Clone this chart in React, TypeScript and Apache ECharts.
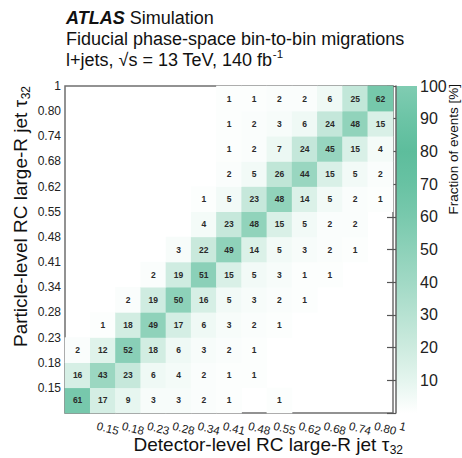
import React, { useEffect, useRef } from "react";
import * as echarts from "echarts";

const FONT = "'Liberation Sans', Arial, Helvetica, sans-serif";

// Bin edge labels (13 bins, edges 0 ... 1)
const xEdgeLabels = ["", "0.15", "0.18", "0.23", "0.28", "0.34", "0.41", "0.48", "0.55", "0.62", "0.68", "0.74", "0.80", "1"];
const yEdgeLabels = ["", "0.15", "0.18", "0.23", "0.28", "0.34", "0.41", "0.48", "0.55", "0.62", "0.68", "0.74", "0.80", "1"];
const binCategories = ["b0", "b1", "b2", "b3", "b4", "b5", "b6", "b7", "b8", "b9", "b10", "b11", "b12"];

// Migration fractions [%]: rows = particle-level bins (bottom to top), columns = detector-level bins
const N = null;
const particleBin0 = [61, 17, 9, 3, 3, 2, 1, N, 1, N, N, N, N];
const particleBin1 = [16, 43, 23, 6, 4, 2, 1, 1, N, N, N, N, N];
const particleBin2 = [2, 12, 52, 18, 6, 3, 2, 1, N, N, N, N, N];
const particleBin3 = [N, 1, 18, 49, 17, 6, 3, 2, 1, N, N, N, N];
const particleBin4 = [N, N, 2, 19, 50, 16, 5, 3, 2, 1, N, N, N];
const particleBin5 = [N, N, N, 2, 19, 51, 15, 5, 3, 1, 1, N, N];
const particleBin6 = [N, N, N, N, 3, 22, 49, 14, 5, 3, 2, 1, N];
const particleBin7 = [N, N, N, N, N, 4, 23, 48, 15, 5, 2, 2, N];
const particleBin8 = [N, N, N, N, N, 1, 5, 23, 48, 14, 5, 2, 1];
const particleBin9 = [N, N, N, N, N, N, 2, 5, 26, 44, 15, 5, 2];
const particleBin10 = [N, N, N, N, N, N, 1, 2, 7, 24, 45, 15, 4];
const particleBin11 = [N, N, N, N, N, N, 1, 2, 3, 6, 24, 48, 15];
const particleBin12 = [N, N, N, N, N, N, 1, 1, 2, 2, 6, 25, 62];
const particleRows = [
  particleBin0, particleBin1, particleBin2, particleBin3, particleBin4, particleBin5, particleBin6,
  particleBin7, particleBin8, particleBin9, particleBin10, particleBin11, particleBin12,
];

const colorbarTicks = [10, 20, 30, 40, 50, 60, 70, 80, 90, 100];
const paletteColors = [
  "#ffffff", "#e4f5ee", "#cdebdf", "#b7e2d2", "#a1d9c5", "#8dd1b9",
  "#79c9ad", "#68c2a3", "#5dbd9c", "#6cc4a6", "#80ccb2",
];

function measure(text: string, size: number, weight = "normal", style = "normal") {
  const ctx = document.createElement("canvas").getContext("2d");
  if (!ctx) return text.length * size * 0.5;
  ctx.font = `${style} ${weight} ${size}px ${FONT}`;
  return ctx.measureText(text).width;
}

export default function App() {
  const ref = useRef<HTMLDivElement>(null);

  useEffect(() => {
    if (!ref.current) return;
    const chart = echarts.init(ref.current, undefined, { renderer: "svg" });

    const data: any[] = [];
    particleRows.forEach((row, yi) => {
      row.forEach((v, xi) => {
        if (v !== null) data.push([xi, yi, v]);
      });
    });

    const titleSize = 18;
    const axisTitleSize = 19;
    const line3Main = "l+jets, \u221As = 13 TeV, 140 fb";
    const line3W = measure(line3Main, titleSize);
    const subSize = 12;
    const subW = measure("32", subSize);

    const gridLeft = 65, gridTop = 86, gridW = 328, gridH = 327;
    const xTitleRight = 403;
    const xTitleY = 444;
    const yTitleX = 20;

    const option: any = {
      animation: false,
      backgroundColor: "#ffffff",
      textStyle: { fontFamily: FONT },
      grid: [
        { left: gridLeft, top: gridTop, width: gridW, height: gridH, show: true, borderColor: "#6f6f6f", borderWidth: 1.5, backgroundColor: "transparent", containLabel: false },
        { left: 396, top: gridTop, width: 21, height: gridH, show: false, containLabel: false },
      ],
      xAxis: [
        {
          gridIndex: 0, type: "value", min: 0, max: 13, interval: 1, position: "bottom",
          axisLine: { show: false }, axisTick: { show: false }, splitLine: { show: false },
          axisLabel: {
            showMinLabel: true, showMaxLabel: true,
            formatter: (v: number) => xEdgeLabels[Math.round(v)] ?? "",
            rotate: -14, margin: 11, fontSize: 11.5, color: "#222", fontFamily: FONT,
            padding: [0, 0, 0, 7],
          },
        },
        { gridIndex: 0, type: "category", data: binCategories, position: "top", show: false },
        { gridIndex: 1, type: "value", min: 0, max: 1, show: false },
      ],
      yAxis: [
        {
          gridIndex: 0, type: "value", min: 0, max: 13, interval: 1, position: "left",
          axisLine: { show: false }, axisTick: { show: false }, splitLine: { show: false },
          axisLabel: {
            showMinLabel: true, showMaxLabel: true,
            formatter: (v: number) => yEdgeLabels[Math.round(v)] ?? "",
            margin: 4, fontSize: 12, color: "#222", fontFamily: FONT,
          },
        },
        { gridIndex: 0, type: "category", data: binCategories, position: "right", show: false },
        {
          gridIndex: 1, type: "value", min: 0, max: 100, interval: 10, position: "right",
          axisLine: { show: true, lineStyle: { color: "#666", width: 1.5 } },
          axisTick: { show: true, inside: true, length: 9, lineStyle: { color: "#555", width: 1.2 } },
          splitLine: { show: false },
          axisLabel: {
            showMinLabel: true, showMaxLabel: true,
            formatter: (v: number) => (colorbarTicks.indexOf(Math.round(v)) >= 0 ? String(Math.round(v)) : ""),
            margin: 3, fontSize: 16, color: "#222", fontFamily: FONT,
          },
        },
      ],
      visualMap: {
        type: "continuous", show: false, min: 0, max: 100, seriesIndex: 0,
        inRange: { color: paletteColors },
      },
      series: [
        {
          type: "heatmap", xAxisIndex: 1, yAxisIndex: 1, data,
          label: {
            show: true, fontSize: 8.5, fontWeight: "bold", color: "#2a2a2a", fontFamily: FONT,
            formatter: (p: any) => (Math.round(p.value[2]) >= 1 ? String(Math.round(p.value[2])) : ""),
          },
          itemStyle: { borderWidth: 0 },
          emphasis: { disabled: true },
        },
      ],
      graphic: [
        {
          type: "rect", z: -10, silent: true,
          shape: { x: 396, y: gridTop, width: 21, height: gridH },
          style: {
            fill: new echarts.graphic.LinearGradient(0, 1, 0, 0,
              paletteColors.map((c, i) => ({ offset: i / (paletteColors.length - 1), color: c }))),
          },
        },
        {
          type: "text", x: 66, y: 18,
          style: {
            text: "{b|ATLAS} Simulation", fontSize: titleSize, fontFamily: FONT, fill: "#111",
            verticalAlign: "middle",
            rich: { b: { fontSize: titleSize, fontWeight: "bold", fontStyle: "italic", fontFamily: FONT, fill: "#111" } },
          },
        },
        {
          type: "text", x: 66, y: 39,
          style: { text: "Fiducial phase-space bin-to-bin migrations", fontSize: titleSize, fontFamily: FONT, fill: "#111", verticalAlign: "middle" },
        },
        {
          type: "text", x: 66, y: 60,
          style: { text: line3Main, fontSize: titleSize, fontFamily: FONT, fill: "#111", verticalAlign: "middle" },
        },
        {
          type: "text", x: 66 + line3W + 0.5, y: 54,
          style: { text: "-1", fontSize: 11.5, fontFamily: FONT, fill: "#111", verticalAlign: "middle" },
        },
        {
          type: "text", x: xTitleRight - subW - 0.5, y: xTitleY,
          style: { text: "Detector-level RC large-R jet \u03C4", fontSize: axisTitleSize, fontFamily: FONT, fill: "#111", align: "right", verticalAlign: "middle" },
        },
        {
          type: "text", x: xTitleRight, y: xTitleY + 6,
          style: { text: "32", fontSize: subSize, fontFamily: FONT, fill: "#111", align: "right", verticalAlign: "middle" },
        },
        {
          type: "text", x: yTitleX, y: gridTop + subW + 0.5, rotation: Math.PI / 2,
          style: { text: "Particle-level RC large-R jet \u03C4", fontSize: axisTitleSize, fontFamily: FONT, fill: "#111", align: "right", verticalAlign: "middle" },
        },
        {
          type: "text", x: yTitleX + 6, y: gridTop, rotation: Math.PI / 2,
          style: { text: "32", fontSize: subSize, fontFamily: FONT, fill: "#111", align: "right", verticalAlign: "middle" },
        },
        {
          type: "text", x: 453, y: 84, rotation: Math.PI / 2,
          style: { text: "Fraction of events [%]", fontSize: 13.5, fontFamily: FONT, fill: "#111", align: "right", verticalAlign: "middle" },
        },
      ],
    };

    chart.setOption(option);
    return () => chart.dispose();
  }, []);

  return (
    <div
      ref={ref}
      style={{ position: "absolute", left: 0, top: 0, width: 462, height: 458, background: "#fff" }}
    />
  );
}
